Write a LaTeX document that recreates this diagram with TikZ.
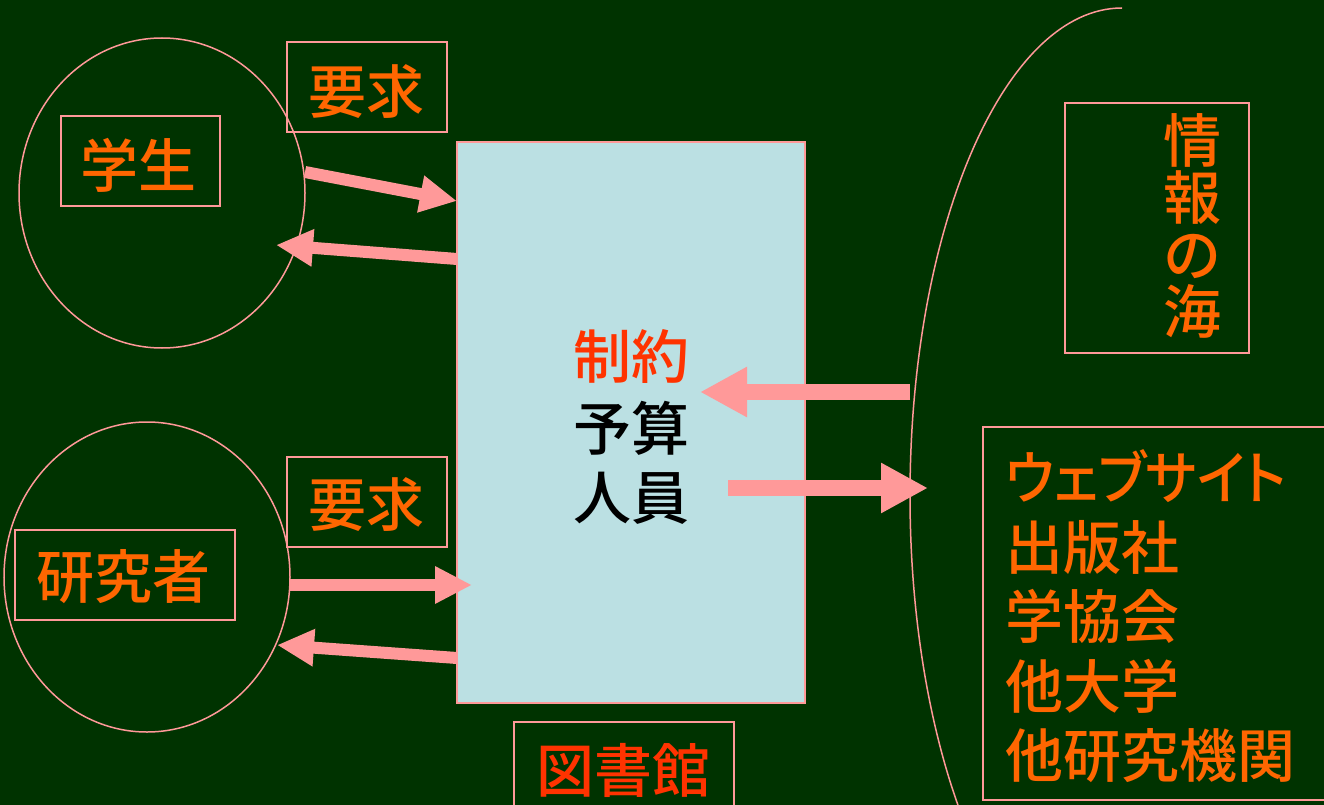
\documentclass[tikz,border=0pt]{standalone}
\usepackage{fontspec}
\setmainfont{Noto Sans CJK JP Medium}
\newfontfamily\jpp{Noto Sans CJK JP Medium}[RawFeature=+palt]
\usetikzlibrary{arrows.meta}
\definecolor{bg}{RGB}{0,51,0}
\definecolor{orng}{RGB}{255,102,0}
\definecolor{redo}{RGB}{255,51,0}
\definecolor{pinkc}{RGB}{255,153,153}
\definecolor{boxfill}{RGB}{187,224,227}
\tikzset{
  lbl/.style={draw=pinkc, line width=1.5pt, inner sep=0pt},
  txt/.style={font=\fontsize{58pt}{70pt}\selectfont, text=orng, inner sep=0pt},
  fat/.style={draw=pinkc, line width=12pt, -{Triangle[length=37pt,width=35pt]}},
  fatb/.style={draw=pinkc, line width=16pt, -{Triangle[length=47pt,width=47pt]}},
  ring/.style={draw=pinkc, line width=1.5pt},
}
\begin{document}
\begin{tikzpicture}[x=1pt,y=-1pt]
\useasboundingbox (0,0) rectangle (1324,805);
\fill[bg] (0,0) rectangle (1324,805);

% circles
\draw[ring] (162,193) ellipse [x radius=143pt, y radius=155pt];
\draw[ring] (147,577) ellipse [x radius=143pt, y radius=155pt];

% label boxes
\draw[lbl] (61,116) rectangle (220,206);
\node[txt] (stud) at (138,165) {学生};
\draw[lbl] (287,42) rectangle (447,132);
\node[txt] (req1) at (366,92) {要求};
\draw[lbl] (15,530) rectangle (235,620);
\node[txt] (res) at (123,577) {研究者};
\draw[lbl] (287,457) rectangle (447,547);
\node[txt] (req2) at (366,505) {要求};

% library box
\draw[lbl, fill=boxfill] (457,142) rectangle (805,703);
\node[txt, text=redo] (con) at (631,356) {制約};
\node[txt, text=black] (bud) at (631,428) {予算};
\node[txt, text=black] (staff) at (631,498) {人員};
\draw[lbl] (514,722) rectangle (734,812);
\node[txt, text=redo] (libname) at (623,770) {図書館};

% sea of information
\draw[ring] (1122,8) arc[start angle=90, end angle=222, x radius=212pt, y radius=488pt];
\draw[lbl] (1065,103) rectangle (1249,353);
\node[txt, align=center, font=\fontsize{58pt}{57pt}\selectfont] (sea) at (1192,226) {情\\報\\の\\海};
\draw[lbl] (983,427) rectangle (1330,800);
\node[txt, anchor=west, font=\fontsize{58pt}{70pt}\jpp] (s1) at (1005,476) {\scalebox{0.935}[1]{ウェブサイト}};
\node[txt, anchor=west] (s2) at (1005,547) {出版社};
\node[txt, anchor=west] (s3) at (1005,616) {学協会};
\node[txt, anchor=west] (s4) at (1005,686) {他大学};
\node[txt, anchor=west] (s5) at (1005,756) {他研究機関};

% arrow end points
\coordinate (a1s) at (305,172);
\coordinate (a1e) at (457,201);
\coordinate (a2s) at (457,259);
\coordinate (a2e) at (276,245);
\coordinate (a3s) at (290,585);
\coordinate (a3e) at (472,585);
\coordinate (a4s) at (457,658);
\coordinate (a4e) at (277,645);
\coordinate (a5s) at (910,392);
\coordinate (a5e) at (700,392);
\coordinate (a6s) at (728,488);
\coordinate (a6e) at (928,488);

\draw[fat] (a1s) -- (a1e);
\draw[fat] (a2s) -- (a2e);
\draw[fat] (a3s) -- (a3e);
\draw[fat] (a4s) -- (a4e);
\draw[fatb] (a5s) -- (a5e);
\draw[fatb] (a6s) -- (a6e);
\end{tikzpicture}
\end{document}
